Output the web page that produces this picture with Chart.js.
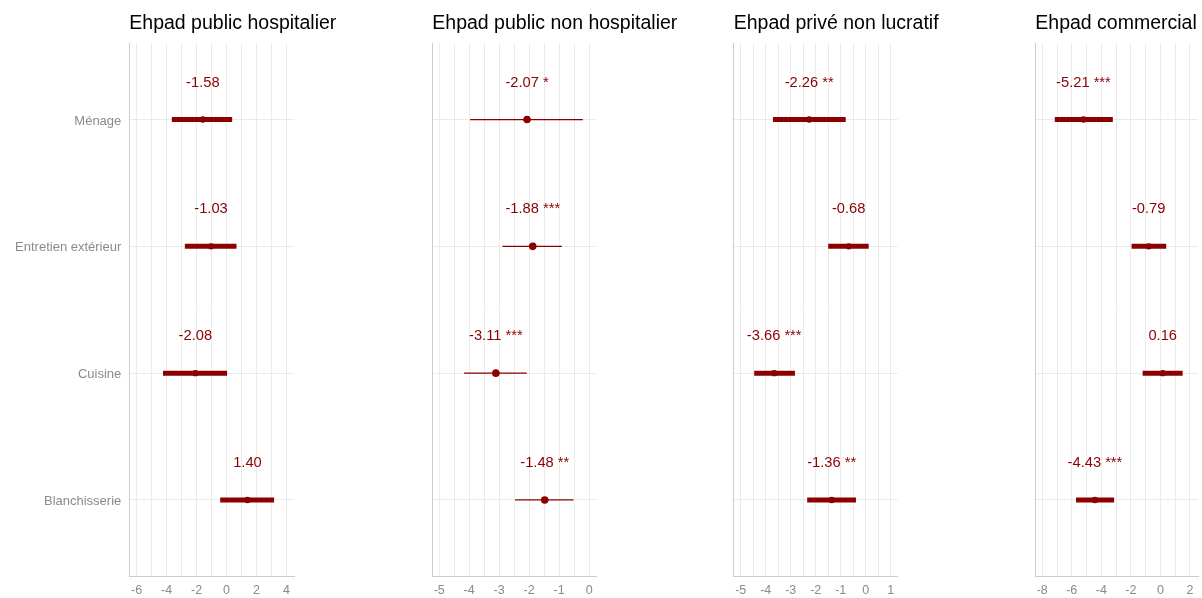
<!DOCTYPE html>
<html>
<head>
<meta charset="utf-8">
<script src="https://cdn.jsdelivr.net/npm/chart.js@4.4.1/dist/chart.umd.min.js"></script>
<style>
  html, body { margin: 0; padding: 0; background: #ffffff; }
  #wrap { position: relative; width: 1202px; height: 598px; overflow: hidden; background: #ffffff; }
  #wrap canvas { position: absolute; top: 0; }
</style>
</head>
<body>
<div id="wrap"></div>
<script>
// ---------- DATA ----------
const categories = ['Ménage', 'Entretien extérieur', 'Cuisine', 'Blanchisserie'];
const panelTitles = ['Ehpad public hospitalier', 'Ehpad public non hospitalier', 'Ehpad privé non lucratif', 'Ehpad commercial'];

const estPublicHosp  = [-1.58, -1.03, -2.08, 1.40];
const lowPublicHosp  = [-3.65, -2.78, -4.24, -0.42];
const highPublicHosp = [0.38, 0.67, 0.04, 3.18];
const starsPublicHosp = ['', '', '', ''];

const estPublicNonHosp  = [-2.07, -1.88, -3.11, -1.48];
const lowPublicNonHosp  = [-3.97, -2.89, -4.17, -2.47];
const highPublicNonHosp = [-0.21, -0.91, -2.08, -0.52];
const starsPublicNonHosp = ['*', '***', '***', '**'];

const estPrive  = [-2.26, -0.68, -3.66, -1.36];
const lowPrive  = [-3.71, -1.50, -4.46, -2.34];
const highPrive = [-0.80, 0.12, -2.83, -0.39];
const starsPrive = ['**', '', '***', '**'];

const estCommercial  = [-5.21, -0.79, 0.16, -4.43];
const lowCommercial  = [-7.15, -1.95, -1.20, -5.71];
const highCommercial = [-3.22, 0.40, 1.51, -3.13];
const starsCommercial = ['***', '', '', '***'];

// x-axis ranges / tick steps per panel
const xMins = [-6.49, -5.23, -5.28, -8.47];
const xMaxs = [4.53, 0.23, 1.28, 2.55];
const xSteps = [1, 0.5, 0.5, 1];
const xLabelEvery = [2, 1, 1, 2];

// ---------- LAYOUT / STYLE ----------
const panels = [
  {est: estPublicHosp, low: lowPublicHosp, high: highPublicHosp, stars: starsPublicHosp},
  {est: estPublicNonHosp, low: lowPublicNonHosp, high: highPublicNonHosp, stars: starsPublicNonHosp},
  {est: estPrive, low: lowPrive, high: highPrive, stars: starsPrive},
  {est: estCommercial, low: lowCommercial, high: highCommercial, stars: starsCommercial}
];
const plotLeft  = [129.3, 432.3, 733.7, 1035.3];
const plotRight = [294.3, 596.0, 897.7, 1200.3];
const canvasLeft = [0, 410, 712, 1014];
const canvasRight = [405, 705, 1010, 1202];
const thin = [false, true, false, false];

const RED = '#8B0000';
const FONT = "'Liberation Sans', Arial, sans-serif";
const GRID = '#ebebeb';
const AXIS = '#cccccc';
const TXT = '#8a8a8a';

const labelPlugin = {
  id: 'estLabels',
  afterDatasetsDraw(chart, args, opts) {
    const ctx = chart.ctx;
    const xs = chart.scales.x, ys = chart.scales.y;
    ctx.save();
    ctx.font = '14.7px ' + FONT;
    ctx.fillStyle = RED;
    ctx.textAlign = 'center';
    ctx.textBaseline = 'middle';
    opts.est.forEach((v, i) => {
      const t = v.toFixed(2) + (opts.stars[i] ? ' ' + opts.stars[i] : '');
      ctx.fillText(t, xs.getPixelForValue(v), ys.getPixelForValue(i) - 37);
    });
    ctx.restore();
  }
};

const titlePlugin = {
  id: 'panelTitle',
  afterDraw(chart, args, opts) {
    const ctx = chart.ctx;
    ctx.save();
    ctx.font = '19.5px ' + FONT;
    ctx.fillStyle = '#000000';
    ctx.textAlign = 'left';
    ctx.textBaseline = 'middle';
    ctx.fillText(opts.text, chart.chartArea.left, 23.5);
    ctx.restore();
  }
};

const wrap = document.getElementById('wrap');

panels.forEach((p, k) => {
  const cv = document.createElement('canvas');
  const w = canvasRight[k] - canvasLeft[k];
  cv.width = w; cv.height = 598;
  cv.style.left = canvasLeft[k] + 'px';
  cv.style.width = w + 'px'; cv.style.height = '598px';
  wrap.appendChild(cv);

  const datasets = [];
  categories.forEach((c, i) => {
    datasets.push({
      type: 'scatter',
      label: c + ' IC',
      data: [{x: p.low[i], y: i}, {x: p.high[i], y: i}],
      showLine: true,
      borderColor: RED,
      borderWidth: thin[k] ? 1.2 : 5,
      borderCapStyle: 'butt',
      pointRadius: 0,
      pointHoverRadius: 0
    });
  });
  datasets.push({
    type: 'scatter',
    label: 'Estimation',
    data: p.est.map((v, i) => ({x: v, y: i})),
    pointRadius: thin[k] ? 3.8 : 3.2,
    pointBackgroundColor: RED,
    pointBorderWidth: 0,
    showLine: false
  });

  const yWidth = plotLeft[k] - canvasLeft[k];
  const padR = canvasRight[k] - plotRight[k];

  new Chart(cv, {
    type: 'scatter',
    data: {datasets},
    plugins: [labelPlugin, titlePlugin],
    options: {
      responsive: false,
      animation: false,
      devicePixelRatio: 1,
      layout: {padding: {left: 0, right: padR, top: 43.5, bottom: 0}},
      plugins: {
        legend: {display: false},
        tooltip: {enabled: false},
        title: {display: false},
        panelTitle: {text: panelTitles[k]},
        estLabels: {est: p.est, stars: p.stars}
      },
      scales: {
        x: {
          type: 'linear',
          position: 'bottom',
          min: xMins[k],
          max: xMaxs[k],
          afterFit: s => { s.height = 22; },
          grid: {color: GRID, lineWidth: 1, drawTicks: false},
          border: {display: true, color: AXIS, width: 1},
          ticks: {
            stepSize: xSteps[k],
            includeBounds: false,
            autoSkip: false,
            maxRotation: 0,
            padding: 7,
            color: TXT,
            font: {family: FONT, size: 12.5},
            callback: v => {
              const r = v / xLabelEvery[k];
              return Math.abs(r - Math.round(r)) < 1e-6 ? String(Math.round(v)) : '';
            }
          }
        },
        y: {
          type: 'linear',
          position: 'left',
          reverse: true,
          min: -0.6,
          max: 3.6,
          afterFit: s => { s.width = yWidth; },
          grid: {color: GRID, lineWidth: 1, drawTicks: false},
          border: {display: true, color: AXIS, width: 1},
          ticks: {
            display: k === 0,
            stepSize: 1,
            includeBounds: false,
            autoSkip: false,
            padding: 8,
            labelOffset: 1.5,
            color: TXT,
            font: {family: FONT, size: 13},
            callback: v => (Number.isInteger(v) && categories[v] !== undefined) ? categories[v] : ''
          }
        }
      }
    }
  });
});
</script>
</body>
</html>
